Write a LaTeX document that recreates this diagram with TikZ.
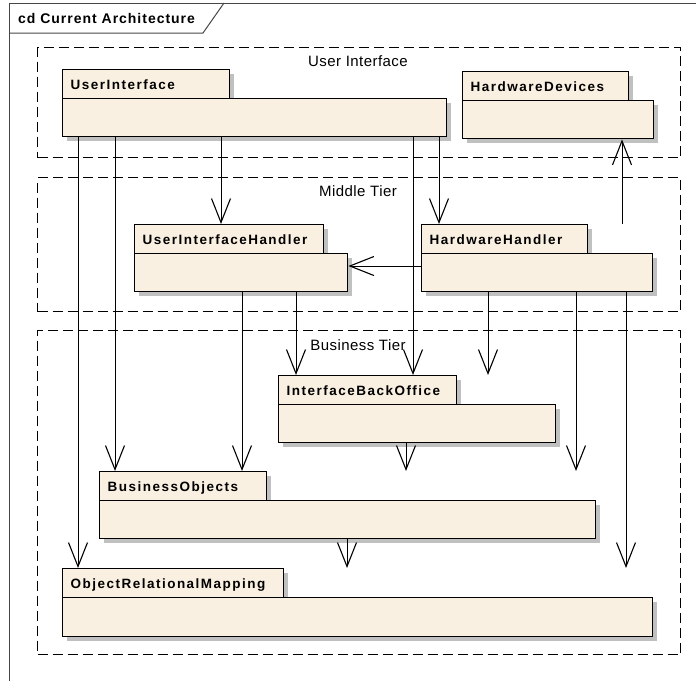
\documentclass[tikz,border=0pt]{standalone}
\usepackage{fontspec}
\usetikzlibrary{arrows.meta,shadows}
\newfontfamily\titlefont{Liberation Sans}[LetterSpace=7]
\newfontfamily\namefont{Liberation Sans}[LetterSpace=11]
\newfontfamily\tierfont{Liberation Sans}[LetterSpace=3]
\definecolor{pkgfill}{RGB}{250,240,225}
\definecolor{shadowgrey}{RGB}{192,192,192}
\definecolor{framegrey}{RGB}{70,70,70}

% A UML package: tab and body, with the name in the tab
% #1 name, #2 label, #3 left x, #4 tab top, #5 tab right, #6 tab bottom, #7 body right, #8 body bottom
\newcommand\umlpackage[8]{%
  \node[pkgpart, minimum width={(#5)-(#3)}, minimum height={(#6)-(#4)}] (#1-tab) at (#3,#4) {};
  \node[pkgpart, minimum width={(#7)-(#3)}, minimum height={(#8)-(#6)}] (#1) at (#3,#6) {};
  \node[pkgname] (#1-name) at ([xshift=8.5pt, yshift=-20.3pt]#1-tab.north west) {#2};
}

\begin{document}
\begin{tikzpicture}[x=1pt, y=-1pt,
  pkgpart/.style={draw=black, line width=1.4pt, fill=pkgfill, inner sep=0pt,
    anchor=north west,
    general shadow={fill=shadowgrey, shadow xshift=4pt, shadow yshift=-4pt}},
  pkgname/.style={anchor=base west, inner sep=0pt,
    font=\namefont\bfseries\fontsize{13.5}{15}\selectfont},
  tier/.style={draw=black, line width=1.2pt, dash pattern=on 10pt off 5pt,
    anchor=north west, inner sep=0pt},
  tierlabel/.style={anchor=base, inner sep=0pt,
    font=\tierfont\fontsize{15}{17}\selectfont},
  dep/.style={draw=black, line width=1pt,
    -{Straight Barb[length=24pt, width=19pt, line width=1.1pt]}}
]
\useasboundingbox (0,0) rectangle (696,681);

% diagram frame with its title tab
\draw[framegrey, line width=1pt] (9,681) -- (9,3) -- (696,3);
\draw[framegrey, line width=1pt] (9,33) -- (203,33) -- (224,3);
\node[anchor=base west, inner sep=0pt,
  font=\titlefont\bfseries\fontsize{14}{16}\selectfont] (title) at (18,23.3)
  {cd Current Architecture};

% tiers
\node[tier, minimum width=643, minimum height=110] (uitier) at (37,47) {};
\node[tier, minimum width=643, minimum height=134] (midtier) at (37,177) {};
\node[tier, minimum width=643, minimum height=324] (biztier) at (37,330) {};
\node[tierlabel] (uitier-label) at (358,66) {User Interface};
\node[tierlabel] (midtier-label) at (358,196) {Middle Tier};
\node[tierlabel] (biztier-label) at (358,350) {Business Tier};

% packages
\umlpackage{ui}{UserInterface}{62}{69}{229}{98}{446}{136}
\umlpackage{hwd}{HardwareDevices}{462}{71}{628}{100}{653}{138}
\umlpackage{uih}{UserInterfaceHandler}{134}{224}{323}{253}{347}{291}
\umlpackage{hwh}{HardwareHandler}{421}{224}{587}{253}{652}{291}
\umlpackage{ibo}{InterfaceBackOffice}{278}{375}{456}{404}{555}{442}
\umlpackage{bo}{BusinessObjects}{99}{471}{266}{500}{595}{538}
\umlpackage{orm}{ObjectRelationalMapping}{62}{568}{283}{597}{652}{636}

% dependencies
\draw[dep] (ui.south -| 78,0) -- (orm-tab.north -| 78,0);
\draw[dep] (ui.south -| 115,0) -- (bo-tab.north -| 115,0);
\draw[dep] (ui.south -| 221,0) -- (uih-tab.north -| 221,0);
\draw[dep] (ui.south -| 413,0) -- (ibo-tab.north -| 413,0);
\draw[dep] (ui.south -| 439,0) -- (hwh-tab.north -| 439,0);
\draw[dep] (hwh-tab.north -| 622,0) -- (hwd.south -| 622,0);
\draw[dep] (hwh.west |- 0,266) -- (uih.east |- 0,266);
\draw[dep] (uih.south -| 242,0) -- (bo-tab.north -| 242,0);
\draw[dep] (uih.south -| 296,0) -- (ibo-tab.north -| 296,0);
\draw[dep] (hwh.south -| 488,0) -- (ibo-tab.north -| 488,0);
\draw[dep] (hwh.south -| 576,0) -- (bo-tab.north -| 576,0);
\draw[dep] (hwh.south -| 626,0) -- (orm-tab.north -| 626,0);
\draw[dep] (ibo.south -| 406,0) -- (bo-tab.north -| 406,0);
\draw[dep] (bo.south -| 347,0) -- (orm-tab.north -| 347,0);
\end{tikzpicture}
\end{document}
